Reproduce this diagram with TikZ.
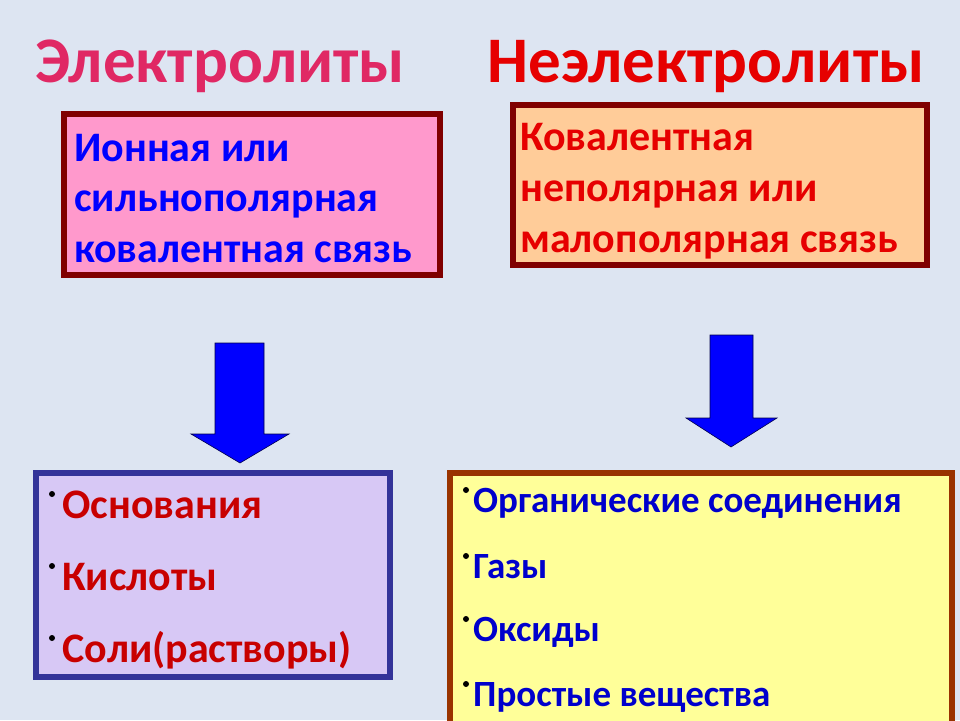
\documentclass[tikz,border=0pt]{standalone}
\usepackage{fontspec}
\setmainfont{Carlito}
\begin{document}
\begin{tikzpicture}[x=1pt,y=-1pt,
  box/.style={line width=6pt},
  txt/.style={anchor=base west,inner sep=0pt,font=\bfseries\fontsize{42}{42}\selectfont},
  ttl/.style={anchor=base,inner sep=0pt,font=\bfseries\fontsize{65}{65}\selectfont},
  blt/.style={anchor=base west,inner sep=0pt,font=\bfseries\fontsize{37}{37}\selectfont,text=blue!80!black},
  arr/.style={fill=blue,draw=black!70!blue,line width=0.6pt}]
\definecolor{bg}{HTML}{DDE5F2}
\fill[bg] (0,0) rectangle (960,720);
\useasboundingbox (0,0) rectangle (960,720);
\node[ttl,text={rgb,255:red,224;green,40;blue,100}] (t1) at (220,82) {Электролиты};
\node[ttl,text={rgb,255:red,230;green,0;blue,0}] (t2) at (706,82) {Неэлектролиты};
\draw[box,draw={rgb,255:red,128;green,0;blue,0},fill={rgb,255:red,255;green,153;blue,204}] (64,114) rectangle (440,275);
\node[txt,text=blue] (a1) at (74,161) {Ионная или};
\node[txt,text=blue] (a2) at (74,211) {сильнополярная};
\node[txt,text=blue] (a3) at (74,262) {ковалентная связь};
\draw[box,draw={rgb,255:red,128;green,0;blue,0},fill={rgb,255:red,255;green,204;blue,153}] (513,105) rectangle (927,265);
\node[txt,text={rgb,255:red,230;green,0;blue,0}] (b1) at (520,150) {Ковалентная};
\node[txt,text={rgb,255:red,230;green,0;blue,0}] (b2) at (520,201) {неполярная или};
\node[txt,text={rgb,255:red,230;green,0;blue,0}] (b3) at (520,252) {малополярная связь};
\draw[arr] (215,343) -- (264,343) -- (264,434) -- (289,434) -- (240,463) -- (191,434) -- (215,434) -- cycle;
\draw[arr] (710,335) -- (753,335) -- (753,418) -- (777,418) -- (731,447) -- (686,418) -- (710,418) -- cycle;
\draw[box,draw={rgb,255:red,51;green,51;blue,153},fill={rgb,255:red,215;green,200;blue,245}] (36,473) rectangle (390,677);
\draw[box,draw={rgb,255:red,153;green,51;blue,0},fill={rgb,255:red,255;green,255;blue,153}] (450,473) rectangle (952,726);
\foreach \y/\t [count=\i] in {518/Основания,590/Кислоты,662/Соли(растворы)}{
  \node[blt,text={rgb,255:red,200;green,0;blue,0},font=\bfseries\fontsize{42}{42}\selectfont] (l\i) at (62,\y) {\t};
  \fill[black] (52,\y-24) circle (3);
}
\foreach \y/\t [count=\i] in {512/Органические соединения,578/Газы,641/Оксиды,706/Простые вещества}{
  \node[blt] (r\i) at (473,\y) {\t};
  \fill[black] (466,\y-22) circle (3);
}
\end{tikzpicture}
\end{document}
